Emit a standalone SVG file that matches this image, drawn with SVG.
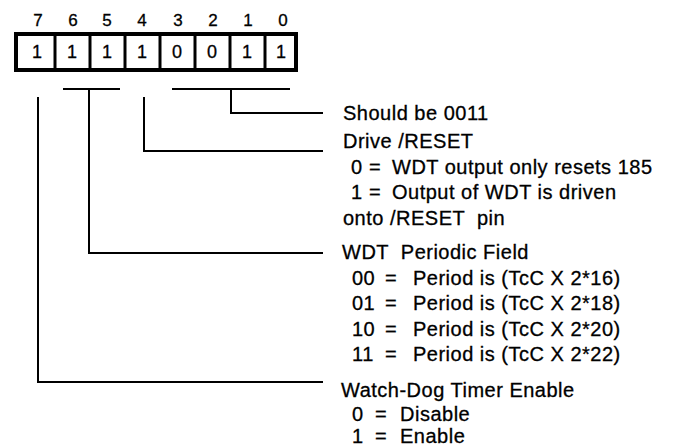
<svg xmlns="http://www.w3.org/2000/svg" width="678" height="446" viewBox="0 0 678 446" xml:space="preserve">
<style>
  text { font-family: "Liberation Sans", Arial, Helvetica, sans-serif; fill: #000; stroke: #000; stroke-width: 0.3; white-space: pre; }
  .bitn { font-size: 17px; text-anchor: middle; }
  .cell { font-size: 18px; text-anchor: middle; }
  .lbl { font-size: 20px; letter-spacing: 0.5px; }
  .box { fill: #fff; stroke: #000; stroke-width: 4; }
  .sep { stroke: #000; stroke-width: 3; }
  .conn { fill: none; stroke: #000; stroke-width: 2; }
</style>
<rect width="678" height="446" fill="#fff"/>
<g id="register">
  <rect class="box" x="16" y="34" width="280" height="36"/>
  <line class="sep" x1="55" y1="34" x2="55" y2="70"/>
  <line class="sep" x1="90" y1="34" x2="90" y2="70"/>
  <line class="sep" x1="125" y1="34" x2="125" y2="70"/>
  <line class="sep" x1="160" y1="34" x2="160" y2="70"/>
  <line class="sep" x1="195" y1="34" x2="195" y2="70"/>
  <line class="sep" x1="230" y1="34" x2="230" y2="70"/>
  <line class="sep" x1="265" y1="34" x2="265" y2="70"/>
  <text class="bitn" x="38" y="26">7</text>
  <text class="bitn" x="73" y="26">6</text>
  <text class="bitn" x="107" y="26">5</text>
  <text class="bitn" x="142" y="26">4</text>
  <text class="bitn" x="178" y="26">3</text>
  <text class="bitn" x="213" y="26">2</text>
  <text class="bitn" x="248" y="26">1</text>
  <text class="bitn" x="283" y="26">0</text>
  <text class="cell" x="37" y="58">1</text>
  <text class="cell" x="72" y="58">1</text>
  <text class="cell" x="107" y="58">1</text>
  <text class="cell" x="142" y="58">1</text>
  <text class="cell" x="177" y="58">0</text>
  <text class="cell" x="212" y="58">0</text>
  <text class="cell" x="247" y="58">1</text>
  <text class="cell" x="281" y="58">1</text>
</g>
<g id="connectors">
  <polyline class="conn" points="172,89 290,89"/>
  <polyline class="conn" points="231,89 231,113 323,113"/>
  <polyline class="conn" points="144,97 144,151 323,151"/>
  <polyline class="conn" points="63,89 120,89"/>
  <polyline class="conn" points="89,89 89,253 323,253"/>
  <polyline class="conn" points="38,97 38,382 323,382"/>
</g>
<g id="field-bits-3-0">
  <text class="lbl" x="343" y="120">Should be 0011</text>
</g>
<g id="field-bit-4">
  <text class="lbl" x="343" y="148">Drive /RESET</text>
  <text class="lbl" y="174"><tspan x="351">0</tspan><tspan x="369">=</tspan><tspan x="392">WDT output only resets 185</tspan></text>
  <text class="lbl" y="199"><tspan x="351">1</tspan><tspan x="369">=</tspan><tspan x="392">Output of WDT is driven</tspan></text>
  <text class="lbl" x="343" y="225">onto /RESET  pin</text>
</g>
<g id="field-bits-6-5">
  <text class="lbl" x="342" y="259">WDT  Periodic Field</text>
  <text class="lbl" y="285"><tspan x="352">00</tspan><tspan x="385">=</tspan><tspan x="413">Period is (TcC X 2*16)</tspan></text>
  <text class="lbl" y="310"><tspan x="352">01</tspan><tspan x="385">=</tspan><tspan x="413">Period is (TcC X 2*18)</tspan></text>
  <text class="lbl" y="336"><tspan x="352">10</tspan><tspan x="385">=</tspan><tspan x="413">Period is (TcC X 2*20)</tspan></text>
  <text class="lbl" y="361"><tspan x="352">11</tspan><tspan x="385">=</tspan><tspan x="413">Period is (TcC X 2*22)</tspan></text>
</g>
<g id="field-bit-7">
  <text class="lbl" x="341" y="397">Watch-Dog Timer Enable</text>
  <text class="lbl" y="421"><tspan x="352">0</tspan><tspan x="375">=</tspan><tspan x="400">Disable</tspan></text>
  <text class="lbl" y="443"><tspan x="352">1</tspan><tspan x="375">=</tspan><tspan x="400">Enable</tspan></text>
</g>
</svg>
